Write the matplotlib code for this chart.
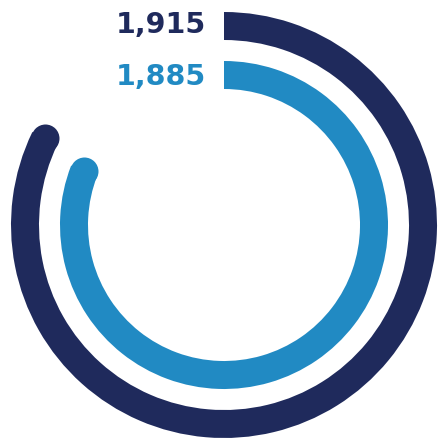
import numpy as np
import matplotlib
matplotlib.use("Agg")
import matplotlib.pyplot as plt

# two rings, outer = 1,915 and inner = 1,885
valeurs = [1915, 1885]
etiquettes = ["1,915", "1,885"]
couleurs = ["#1f2a5c", "#218ac3"]
echelle_max = 2330  # value that would fill the whole circle

W, H = 439, 441
fig = plt.figure(figsize=(W / 100, H / 100), dpi=100)
cx, cy, R = 224, 225, 215
ax = fig.add_axes([(cx - R) / W, (H - cy - R) / H, 2 * R / W, 2 * R / H], projection="polar")
ax.set_theta_zero_location("N")
ax.set_theta_direction(-1)
ax.set_ylim(0, R)
ax.axis("off")

epaisseur = 28
bases = [185, 136]
lignes_base = [33, 85]  # baseline of each label, pixels from top

for v, base, c, lab, yb in zip(valeurs, bases, couleurs, etiquettes, lignes_base):
    angle = v / echelle_max * 2 * np.pi
    ax.bar(0, epaisseur, width=angle, bottom=base, align="edge", color=c,
           edgecolor="none", clip_on=False)
    # rounded end
    ax.plot([angle], [base + epaisseur / 2], marker="o", markersize=epaisseur * 0.72,
            color=c, markeredgewidth=0, clip_on=False)
    # label left of the start of the ring
    fig.text(206 / W, 1 - yb / H, lab, ha="right", va="baseline", color=c,
             fontsize=20.5, fontweight="bold", family="DejaVu Sans")

fig.savefig("out.png", dpi=100, facecolor="white")
